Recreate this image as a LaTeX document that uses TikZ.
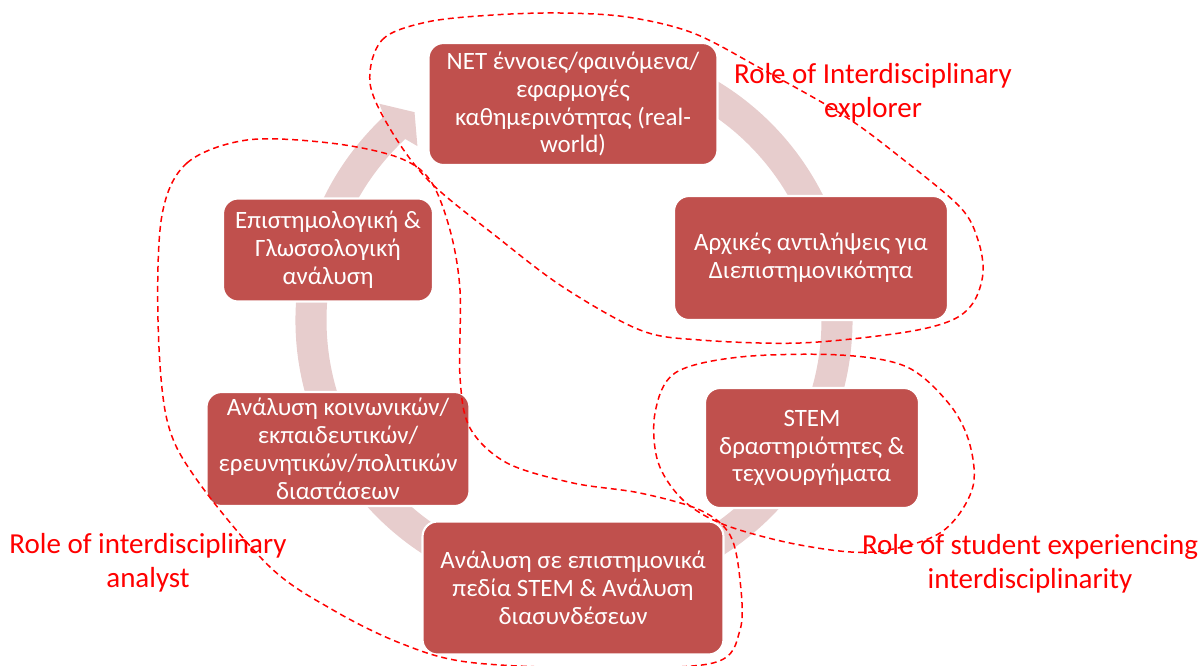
\documentclass[tikz,border=0pt]{standalone}
\usepackage{fontspec}
\setmainfont{Carlito}
\usepackage{xcolor}
\usetikzlibrary{positioning}
\definecolor{BoxRed}{HTML}{C0504D}
\definecolor{BandPink}{HTML}{E7CDCD}
\definecolor{RoleRed}{HTML}{FF0000}

\begin{document}
\begin{tikzpicture}[x=0.02cm, y=-0.02cm, every node/.style={font=\fontsize{14.2}{15.9}\selectfont}]
  \tikzstyle{stagebox}=[rectangle, draw=white, line width=1.2pt, rounded corners=0.3cm, fill=BoxRed, text=white, align=center, inner sep=2pt]
  \tikzstyle{role}=[text=RoleRed, align=center, font=\fontsize{16.5}{19.3}\selectfont]
  \tikzstyle{lasso}=[draw=RoleRed, line width=0.85pt, dash pattern=on 3.4pt off 2.3pt]

  \useasboundingbox (0,0) rectangle (1204,666);
  \coordinate (hub) at (574,320);

  \fill[BandPink, shift={(hub)}] (-80:278.5) arc[start angle=-80, end angle=227, radius=278.5]
    -- (228:291) -- (232.5:262) -- (228:234) -- (227:247.5)
    arc[start angle=227, end angle=-80, radius=247.5] -- cycle;

  \node[stagebox, minimum width=5.78cm, minimum height=2.44cm] (realworld) at (573,104) {NET έννοιες/φαινόμενα/\\εφαρμογές\\καθημερινότητας (real-\\world)};
  \node[stagebox, minimum width=5.48cm, minimum height=2.48cm] (initial) at (811,258) {Αρχικές αντιλήψεις για\\Διεπιστημονικότητα};
  \node[stagebox, minimum width=4.28cm, minimum height=2.40cm] (stem) at (812,448) {STEM\\δραστηριότητες \&\\τεχνουργήματα};
  \node[stagebox, minimum width=6.02cm, minimum height=2.66cm] (fields) at (573,588) {Ανάλυση σε επιστημονικά\\πεδία STEM \& Ανάλυση\\διασυνδέσεων};
  \node[stagebox, minimum width=5.26cm, minimum height=2.28cm] (social) at (338,449) {Ανάλυση κοινωνικών/\\εκπαιδευτικών/\\ερευνητικών/πολιτικών\\διαστάσεων};
  \node[stagebox, minimum width=4.20cm, minimum height=2.06cm] (episteme) at (328,250) {Επιστημολογική \&\\Γλωσσολογική\\ανάλυση};

  \draw[lasso] plot[smooth cycle, tension=0.55] coordinates {(370,83) (382,40) (427,22) (493,15) (560,13) (627,17) (693,33) (760,68) (843,115) (900,157) (960,207) (978,240) (983,273) (973,303) (950,321) (900,333) (800,343) (700,340) (640,330) (563,287) (497,237) (430,182) (392,132)};
  \draw[lasso] plot[smooth cycle, tension=0.55] coordinates {(162,215) (187,163) (247,140) (330,143) (397,157) (430,180) (450,230) (460,290) (460,377) (470,428) (507,463) (573,483) (640,493) (700,510) (730,535) (740,580) (740,630) (713,663) (590,668) (467,662) (400,643) (333,610) (270,567) (197,480) (167,420) (158,320)};
  \draw[lasso] plot[smooth cycle, tension=0.55] coordinates {(740,357) (840,355) (907,367) (950,405) (970,445) (972,490) (940,533) (873,552) (800,545) (725,525) (683,500) (658,462) (655,413) (675,373)};

  \node[role] (explorer) at (873,93) {Role of Interdisciplinary\\explorer};
  \node[role] (student) at (1030,564) {Role of student experiencing\\interdisciplinarity};
  \node[role] (analyst) at (148,563) {Role of interdisciplinary\\analyst};
\end{tikzpicture}
\end{document}
